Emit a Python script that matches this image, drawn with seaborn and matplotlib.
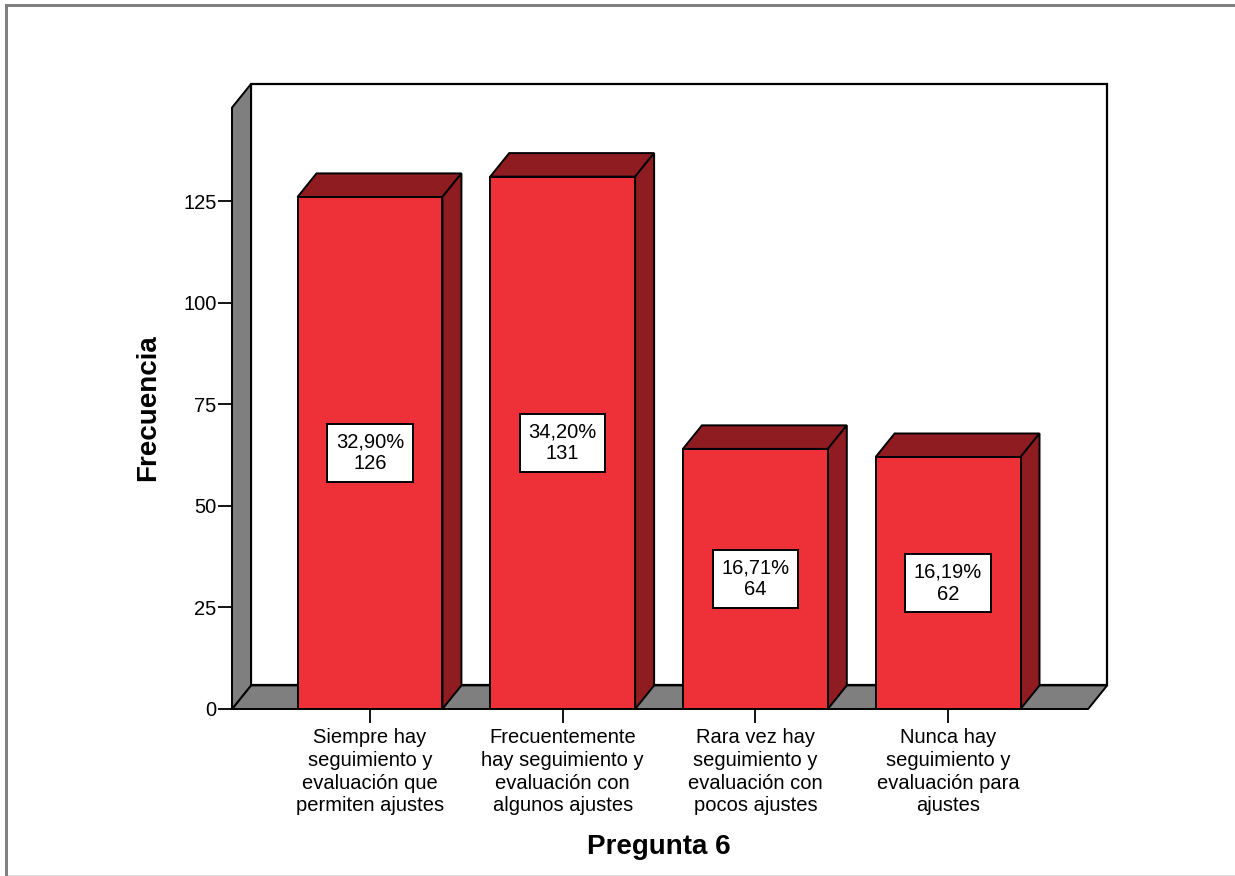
import matplotlib
matplotlib.use("Agg")
import matplotlib.pyplot as plt
from matplotlib.patches import Polygon, Rectangle
import pandas as pd
import seaborn as sns

# Survey answers for question 6
categories = [
    "Siempre hay\nseguimiento y\nevaluación que\npermiten ajustes",
    "Frecuentemente\nhay seguimiento y\nevaluación con\nalgunos ajustes",
    "Rara vez hay\nseguimiento y\nevaluación con\npocos ajustes",
    "Nunca hay\nseguimiento y\nevaluación para\najustes",
]
counts = [126, 131, 64, 62]
percent_labels = ["32,90%", "34,20%", "16,71%", "16,19%"]
y_ticks = [0, 25, 50, 75, 100, 125]

sns.set_style("white")
plt.rcParams["font.family"] = ["Liberation Sans", "DejaVu Sans"]
for key in ("text.color", "axes.labelcolor", "xtick.color", "ytick.color"):
    plt.rcParams[key] = "black"

FRONT = "#EE3039"
SHADE = "#8E1C21"
WALL = "#7F7F7F"

# 3D depth offset (in data units)
DX = 0.0986
DY = 5.8
XL = -0.716
XR_FRONT = 3.727
WALL_TOP = 148.0

fig = plt.figure(figsize=(12.35, 8.76), dpi=100)
W, H = 1235, 876
ax = fig.add_axes([232 / W, (H - 709) / H, (1108 - 232) / W, (709 - 84) / H])

df = pd.DataFrame({"categoria": categories, "frecuencia": counts})
sns.barplot(data=df, x="categoria", y="frecuencia", color=FRONT, saturation=1,
            width=0.752, edgecolor="black", linewidth=1.4, ax=ax, zorder=5)

ax.set_xlim(XL, XL + 4.546)
ax.set_ylim(0, WALL_TOP + DY)

# back wall, floor and left wall of the box
ax.add_patch(Rectangle((XL + DX, DY), XR_FRONT - XL, WALL_TOP, facecolor="white",
                       edgecolor="black", linewidth=1.6, zorder=0, clip_on=False))
ax.add_patch(Polygon([(XL, 0), (XR_FRONT, 0), (XR_FRONT + DX, DY), (XL + DX, DY)],
                     closed=True, facecolor=WALL, edgecolor="black", linewidth=1.4,
                     zorder=1, clip_on=False))
ax.add_patch(Polygon([(XL, 0), (XL, WALL_TOP), (XL + DX, WALL_TOP + DY), (XL + DX, DY)],
                     closed=True, facecolor=WALL, edgecolor="black", linewidth=1.4,
                     zorder=1, clip_on=False))

# top and side faces of each bar, plus the value boxes
for bar, n, pct in zip(ax.patches[:len(counts)], counts, percent_labels):
    x0 = bar.get_x()
    x1 = x0 + bar.get_width()
    h = bar.get_height()
    ax.add_patch(Polygon([(x0, h), (x1, h), (x1 + DX, h + DY), (x0 + DX, h + DY)],
                         closed=True, facecolor=SHADE, edgecolor="black",
                         linewidth=1.4, zorder=3, clip_on=False))
    ax.add_patch(Polygon([(x1, 0), (x1 + DX, DY), (x1 + DX, h + DY), (x1, h)],
                         closed=True, facecolor=SHADE, edgecolor="black",
                         linewidth=1.4, zorder=3, clip_on=False))
    ax.text((x0 + x1) / 2, h / 2, f"{pct}\n{n}", ha="center", va="center",
            fontsize=14.5, linespacing=1.2, zorder=8,
            bbox=dict(boxstyle="square,pad=0.42", facecolor="white",
                      edgecolor="black", linewidth=1.4))

for s in ax.spines.values():
    s.set_visible(False)

ax.set_yticks(y_ticks)
ax.set_yticklabels([str(t) for t in y_ticks])
ax.set_xticks(range(len(categories)))
ax.set_xticklabels(categories)
ax.tick_params(axis="y", direction="out", length=10, width=1.3, pad=1,
               labelsize=14.5, left=True, color="black", labelcolor="black")
ax.tick_params(axis="x", direction="out", length=10, width=1.3, pad=4,
               labelsize=14.5, bottom=True, color="black", labelcolor="black")
plt.setp(ax.get_xticklabels(), linespacing=1.24)
ax.set_xlabel("")
ax.set_ylabel("")

fig.text(148 / W, 1 - 408 / H, "Frecuencia", rotation=90, ha="center",
         va="center", fontsize=20, fontweight="bold", color="black")
fig.text(659 / W, 1 - 847 / H, "Pregunta 6", ha="center", va="center",
         fontsize=20, fontweight="bold", color="black")

# outer frame of the chart panel
fig.add_artist(Rectangle((5 / W, 0), 3 / W, 1 - 5 / H, transform=fig.transFigure,
                         facecolor="#808080", edgecolor="none"))
fig.add_artist(Rectangle((5 / W, 1 - 7 / H), 1 - 5 / W, 3 / H,
                         transform=fig.transFigure, facecolor="#808080",
                         edgecolor="none"))
fig.add_artist(Rectangle((8 / W, 0), 1 - 8 / W, 1.5 / H, transform=fig.transFigure,
                         facecolor="#DDDDDD", edgecolor="none"))

fig.savefig("out.png", dpi=100)
